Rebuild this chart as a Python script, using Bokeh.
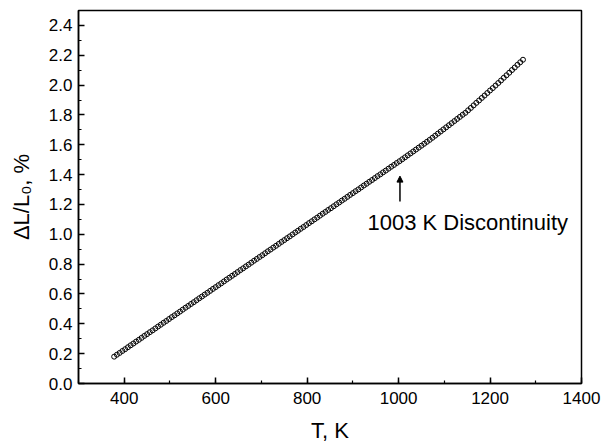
from bokeh.plotting import figure
from bokeh.models import (Range1d, SingleIntervalTicker, PrintfTickFormatter,
                          Label, Arrow, NormalHead)
from bokeh.embed import file_html
from bokeh.resources import INLINE

# Dilatometer run: temperature (K) and relative elongation dL/L0 (%)
temperature_k = [
    378, 384, 390, 396, 402, 408, 414, 420, 426, 432,
    438, 444, 450, 456, 462, 468, 474, 480, 486, 492,
    498, 504, 510, 516, 522, 528, 534, 540, 546, 552,
    558, 564, 570, 576, 582, 588, 594, 600, 606, 612,
    618, 624, 630, 636, 642, 648, 654, 660, 666, 672,
    678, 684, 690, 696, 702, 708, 714, 720, 726, 732,
    738, 744, 750, 756, 762, 768, 774, 780, 786, 792,
    798, 804, 810, 816, 822, 828, 834, 840, 846, 852,
    858, 864, 870, 876, 882, 888, 894, 900, 906, 912,
    918, 924, 930, 936, 942, 948, 954, 960, 966, 972,
    978, 984, 990, 996, 1002, 1008, 1014, 1020, 1026, 1032,
    1038, 1044, 1050, 1056, 1062, 1068, 1074, 1080, 1086, 1092,
    1098, 1104, 1110, 1116, 1122, 1128, 1134, 1140, 1146, 1152,
    1158, 1164, 1170, 1176, 1182, 1188, 1194, 1200, 1206, 1212,
    1218, 1224, 1230, 1236, 1242, 1248, 1254, 1260, 1266, 1272,
]
elongation_pct = [
    0.180, 0.193, 0.205, 0.218, 0.230, 0.243, 0.256, 0.268, 0.281, 0.293,
    0.306, 0.319, 0.331, 0.344, 0.356, 0.369, 0.382, 0.394, 0.407, 0.419,
    0.432, 0.445, 0.457, 0.470, 0.482, 0.495, 0.508, 0.520, 0.533, 0.545,
    0.558, 0.571, 0.583, 0.596, 0.608, 0.621, 0.634, 0.646, 0.659, 0.671,
    0.684, 0.697, 0.709, 0.722, 0.734, 0.747, 0.760, 0.772, 0.785, 0.797,
    0.810, 0.823, 0.835, 0.848, 0.860, 0.873, 0.886, 0.898, 0.911, 0.923,
    0.936, 0.949, 0.961, 0.974, 0.986, 0.999, 1.012, 1.024, 1.037, 1.049,
    1.062, 1.075, 1.087, 1.100, 1.112, 1.125, 1.138, 1.150, 1.163, 1.175,
    1.188, 1.201, 1.213, 1.226, 1.238, 1.251, 1.264, 1.276, 1.289, 1.301,
    1.314, 1.327, 1.339, 1.352, 1.364, 1.377, 1.390, 1.402, 1.415, 1.427,
    1.440, 1.453, 1.465, 1.478, 1.490, 1.503, 1.516, 1.529, 1.542, 1.555,
    1.568, 1.581, 1.594, 1.607, 1.620, 1.633, 1.647, 1.661, 1.675, 1.689,
    1.703, 1.717, 1.731, 1.745, 1.759, 1.773, 1.787, 1.801, 1.814, 1.831,
    1.847, 1.864, 1.881, 1.897, 1.914, 1.930, 1.947, 1.964, 1.980, 1.997,
    2.014, 2.031, 2.049, 2.066, 2.083, 2.101, 2.118, 2.136, 2.153, 2.170,
]

# Annotated discontinuity
disc_t = 1003
disc_text = "1003 K Discontinuity"
disc_arrow_from = 1.22
disc_arrow_to = 1.39

FONT = "Liberation Sans"

p = figure(width=603, height=445, output_backend="svg", toolbar_location=None,
           x_range=Range1d(300, 1400), y_range=Range1d(0, 2.5),
           min_border_left=78, min_border_right=22,
           min_border_top=10, min_border_bottom=62)
p.background_fill_color = "white"
p.border_fill_color = "white"
p.outline_line_color = "black"
p.outline_line_width = 1.5
p.xgrid.visible = False
p.ygrid.visible = False

p.xaxis.ticker = SingleIntervalTicker(interval=200, num_minor_ticks=2)
p.yaxis.ticker = SingleIntervalTicker(interval=0.2, num_minor_ticks=2)
p.yaxis.formatter = PrintfTickFormatter(format="%.1f")

for ax in (p.xaxis[0], p.yaxis[0]):
    ax.axis_line_color = "black"
    ax.axis_line_width = 1.5
    ax.major_tick_in = 6
    ax.major_tick_out = 0
    ax.minor_tick_in = 3
    ax.minor_tick_out = 0
    ax.major_tick_line_color = "black"
    ax.minor_tick_line_color = "black"
    ax.major_tick_line_width = 1.5
    ax.minor_tick_line_width = 1.2
    ax.major_label_text_font = FONT
    ax.major_label_text_font_size = "17px"
    ax.major_label_text_color = "black"
    ax.axis_label_text_font = FONT
    ax.axis_label_text_font_size = "22px"
    ax.axis_label_text_font_style = "normal"
    ax.axis_label_text_color = "black"

p.xaxis.axis_label = "T, K"
p.yaxis.axis_label = "ΔL/L₀, %"
p.xaxis.major_label_standoff = 8
p.yaxis.major_label_standoff = 6
p.xaxis.axis_label_standoff = 11
p.yaxis.axis_label_standoff = 12

p.scatter(temperature_k, elongation_pct, marker="circle", size=5,
          fill_color=None, line_color="black", line_width=1.0)

p.add_layout(Arrow(end=NormalHead(size=6, fill_color="black", line_color="black"),
                   x_start=disc_t, y_start=disc_arrow_from,
                   x_end=disc_t, y_end=disc_arrow_to,
                   line_color="black", line_width=1.5))
p.add_layout(Label(x=932, y=1.078, text=disc_text, text_font=FONT,
                   text_font_size="22px", text_color="black",
                   text_baseline="alphabetic"))

open("out.html", "w").write(file_html(p, INLINE))
